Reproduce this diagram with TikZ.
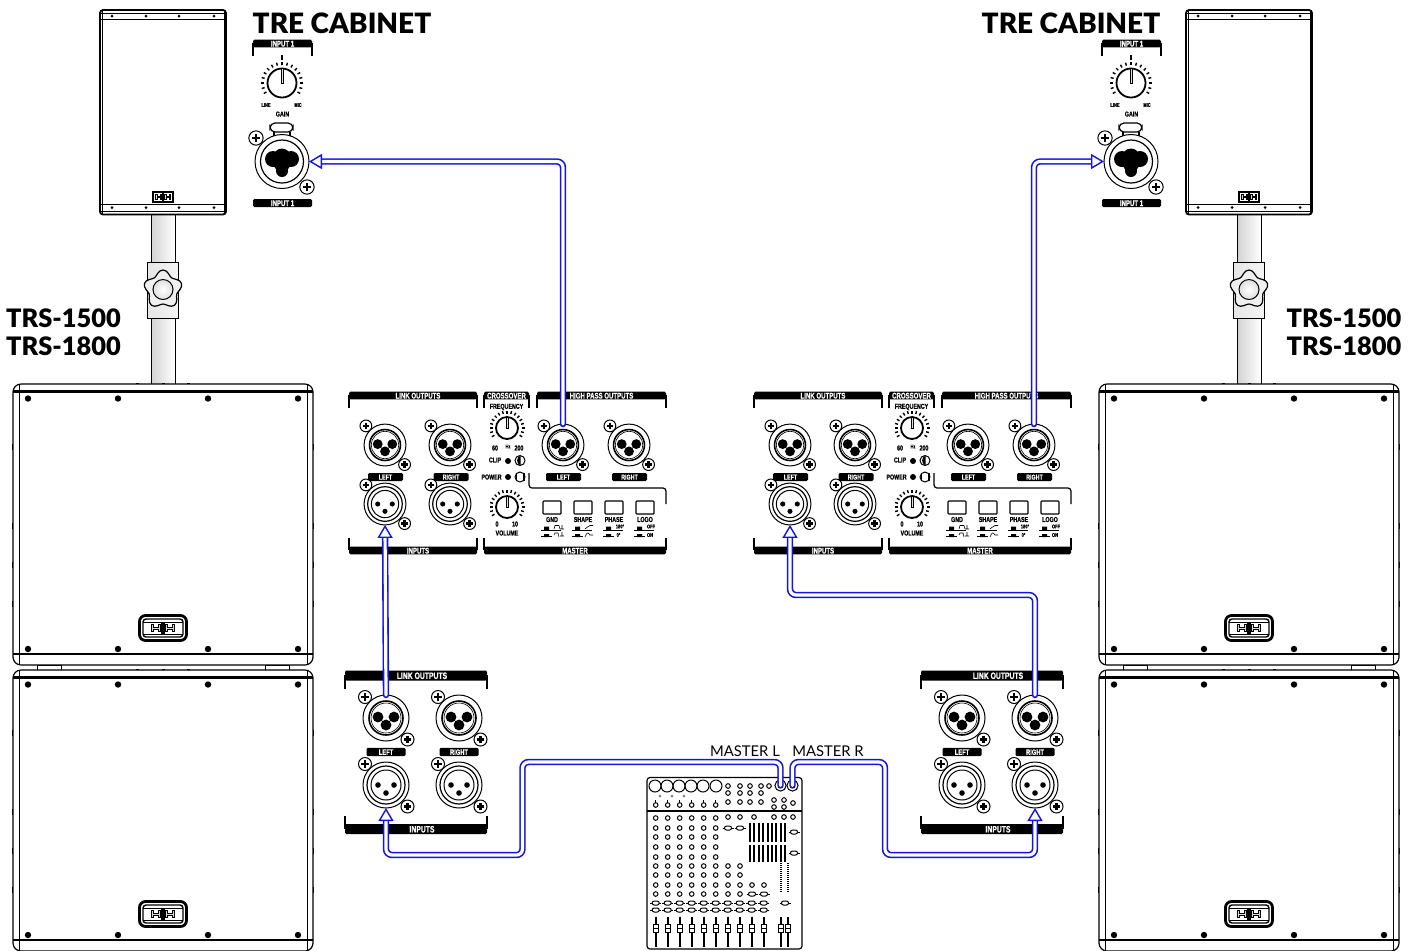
\documentclass[tikz,border=0pt]{standalone}
\usepackage{fontspec}
\usetikzlibrary{arrows.meta}
\newfontfamily\titlefont[BoldFont={Lato Black}]{Lato}
\newfontfamily\panelfont[FakeStretch=0.74,BoldFeatures={FakeBold=0.8}]{Liberation Sans}
\definecolor{cableblue}{RGB}{20,20,225}
\begin{document}
\begin{tikzpicture}[x=0.5pt,y=-0.5pt,line width=0.5pt,
  cable/.style={draw=cableblue,double=white,double distance=1.6pt,line width=0.8pt,rounded corners=3pt,line cap=round,
    -{Triangle[length=6.5pt,width=7.5pt,fill=white,line width=0.7pt]}},
  maintitle/.style={inner sep=0,font=\titlefont\bfseries\fontsize{14}{16}\selectfont},
  trslabel/.style={inner sep=0,font=\titlefont\bfseries\fontsize{12.7}{14}\selectfont},
  mastertag/.style={inner sep=0,font=\titlefont\fontsize{7.4}{9}\selectfont},
  panelbar/.style={fill=black,text=white,inner sep=0,rounded corners=0.7pt,text height=3pt,text depth=0pt,font=\panelfont\bfseries\fontsize{4.1}{4.1}\selectfont},
  paneltext/.style={inner sep=0,font=\panelfont\bfseries\fontsize{3.6}{3.6}\selectfont},
  tinytext/.style={inner sep=0,font=\panelfont\bfseries\fontsize{2.7}{2.7}\selectfont},
  jackring/.style={circle,draw,fill=white,minimum size=23pt,inner sep=0,outer sep=0,transform shape},
  mixjack/.style={circle,draw,fill=white,minimum size=5.6pt,inner sep=0,outer sep=0},
  panelline/.style={line width=0.6pt}]
\useasboundingbox (0,0) rectangle (1419,950);
\def\panelScrew#1#2{%
  \draw[fill=white] (#1,#2) circle[radius=6.5];
  \draw[line width=1.1pt] (#1-3.6,#2) -- (#1+3.6,#2) (#1,#2-3.6) -- (#1,#2+3.6);}
\def\panelKnob#1#2#3{%
  \begin{scope}[shift={(#1,#2)}]
  \foreach \ang in {150,165,...,390} \draw[line width=0.7pt] (\ang:#3+3.5) -- (\ang:#3+6.5);
  \draw[fill=white,line width=0.9pt] (0,0) circle[radius=#3];
  \draw[fill=gray!25,line width=0.3pt] (-1,-#3) rectangle (1,0);
  \end{scope}}
\def\hhLogo#1#2#3{%
  \begin{scope}[shift={(#1,#2)},scale=#3]
  \fill (-2,-6) rectangle (2,6);
  \draw[line width=0.4pt,fill=gray!30] (-12,-4) -- (-10,-4) -- (-10,-1) -- (-5,-1) -- (-5,-4) -- (-3,-4) -- (-3,4) -- (-5,4) -- (-5,1) -- (-10,1) -- (-10,4) -- (-12,4) -- cycle;
  \draw[line width=0.4pt,fill=gray!30] (12,-4) -- (10,-4) -- (10,-1) -- (5,-1) -- (5,-4) -- (3,-4) -- (3,4) -- (5,4) -- (5,1) -- (10,1) -- (10,4) -- (12,4) -- cycle;
  \end{scope}}
\def\jackOut#1#2#3#4{%
  \begin{scope}[shift={(#2,#3)},scale=#4]
  \panelScrew{-21}{-21}
  \panelScrew{21.5}{21.5}
  \node[jackring] (#1) at (0,0) {};
  \draw[line width=0.8pt] (0,0) circle[radius=17];
  \draw[line width=0.3pt] (0,0) circle[radius=15];
  \fill (-8,-1) circle[radius=5.4] (8,-1) circle[radius=5.4] (0,7) circle[radius=5.4];
  \end{scope}}
\def\jackIn#1#2#3#4{%
  \begin{scope}[shift={(#2,#3)},scale=#4]
  \panelScrew{-21}{-21}
  \panelScrew{21.5}{21.5}
  \node[jackring] (#1) at (0,0) {};
  \draw[line width=0.6pt] (0,0) circle[radius=19];
  \draw (0,0) circle[radius=15];
  \fill (-8,0) circle[radius=2.8] (8,0) circle[radius=2.8] (0,8) circle[radius=2.8];
  \end{scope}}
\def\mainPanel#1#2{%
  \begin{scope}[shift={(#2,0)}]
  \node[panelbar,minimum width=64pt,minimum height=3.8pt] (#1linkbar) at (413,395.5) {\hspace*{5pt}LINK OUTPUTS};
  \node[panelbar,minimum width=22.5pt,minimum height=3.8pt] (#1xbar) at (506.5,395.5) {CROSSOVER};
  \node[panelbar,minimum width=64.5pt,minimum height=3.8pt] (#1hpbar) at (601.5,395.5) {HIGH PASS OUTPUTS};
  \node[panelbar,minimum width=64pt,minimum height=3.8pt] (#1inbar) at (413,550.5) {\hspace*{5pt}INPUTS};
  \node[panelbar,minimum width=91pt,minimum height=3.8pt] (#1msbar) at (575,550.5) {MASTER};
  \draw[panelline] (349,395) -- (349,408) (477,395) -- (477,408) (484,395) -- (484,408) (529,395) -- (529,408)
    (537,395) -- (537,408) (666,395) -- (666,408) (349,550) -- (349,538) (477,550) -- (477,538) (484,550) -- (484,538) (666,550) -- (666,538);
  \draw[panelline,rounded corners=1.5pt] (529,473) -- (529,488) -- (666,488) -- (666,504);
  \jackOut{#1linkL}{385}{445}{0.91}
  \jackOut{#1linkR}{450}{445}{0.91}
  \jackIn{#1inL}{385}{504}{0.91}
  \jackIn{#1inR}{450}{504}{0.91}
  \jackOut{#1hpL}{563}{445}{0.91}
  \jackOut{#1hpR}{629}{445}{0.91}
  \foreach \tx/\tname/\tkey in {385.5/LEFT/a,451/RIGHT/b,563.5/LEFT/c,629.5/RIGHT/d}
    \node[panelbar,minimum width=17.5pt,minimum height=4pt,text height=2.6pt,font=\panelfont\bfseries\fontsize{3.6}{3.6}\selectfont] (#1tag\tkey) at (\tx,477) {\tname};
  \node[paneltext] (#1freq) at (506.5,407) {FREQUENCY};
  \panelKnob{507}{428}{11}
  \node[paneltext] (#1sixty) at (495,448) {60};
  \node[tinytext] (#1hz) at (508,446.5) {Hz};
  \node[paneltext] (#1twohund) at (519,448) {200};
  \node[paneltext] (#1clip) at (495,460) {CLIP};
  \node[paneltext] (#1power) at (491.5,477) {POWER};
  \fill (508,461) circle[radius=3] (508,477) circle[radius=3];
  \draw[fill=white] (520,460.5) circle[radius=5] (520,477) circle[radius=5];
  \fill (520.5,455.5) -- (520.5,465.5) .. controls (516,464) and (516,457) .. (520.5,455.5) -- cycle;
  \fill (523,473) rectangle (525,481);
  \fill (517,473) rectangle (515.5,481);
  \panelKnob{507}{507}{11}
  \node[paneltext] (#1zero) at (497,524) {0};
  \node[paneltext] (#1ten) at (515,524) {10};
  \node[paneltext] (#1vol) at (507,533) {VOLUME};
  \foreach \bx/\bname in {552/GND,583/SHAPE,614/PHASE,645/LOGO}{
    \draw[line width=0.55pt,rounded corners=0.4pt] (\bx-9,501) rectangle (\bx+9,514);
    \node[paneltext] (#1\bname) at (\bx,519.5) {\bname};
    \draw (\bx-11,530) -- (\bx+9,530);
    \fill (\bx-8,526.5) rectangle (\bx-3,530) (\bx-8,534) rectangle (\bx-3,537);
    \draw (\bx-11,536) -- (\bx,536);}
  \draw[line width=0.3pt] (554,529) -- (555,525.5) -- (559,525.5) -- (560,529) (562,525) -- (562,529) (560,529) -- (564,529)
    (554,535) -- (555,533) -- (558,533) -- (559,537) (562,532) -- (562,536) (560,536) -- (564,536);
  \draw[line width=0.3pt] (585,529) .. controls (587,529) and (587,525.5) .. (590,525.5) -- (593,525.5)
    (585,537) .. controls (587,532) and (588,532) .. (590,535) -- (593,535);
  \node[tinytext] (#1phaseup) at (620,526.5) {180°};
  \node[tinytext] (#1phasedn) at (618.5,535) {0°};
  \node[tinytext] (#1logoup) at (651,526.5) {OFF};
  \node[tinytext] (#1logodn) at (650,535) {ON};
  \end{scope}}
\def\splitPanel#1#2{%
  \begin{scope}[shift={(#2,0)}]
  \node[panelbar,minimum width=71pt,minimum height=5pt,text height=3.4pt,font=\panelfont\bfseries\fontsize{4.6}{4.6}\selectfont] (#1linkbar) at (416,675.5) {\hspace*{6pt}LINK OUTPUTS};
  \node[panelbar,minimum width=71pt,minimum height=5pt,text height=3.4pt,font=\panelfont\bfseries\fontsize{4.6}{4.6}\selectfont] (#1inbar) at (416,829) {\hspace*{6pt}INPUTS};
  \draw[panelline] (345,675) -- (345,689) (487,675) -- (487,689) (345,829) -- (345,816) (487,829) -- (487,816);
  \jackOut{#1linkL}{386}{718}{1}
  \jackOut{#1linkR}{459}{718}{1}
  \jackIn{#1inL}{386}{785}{1}
  \jackIn{#1inR}{459}{785}{1}
  \node[panelbar,minimum width=19.5pt,minimum height=4.2pt,text height=2.8pt,font=\panelfont\bfseries\fontsize{3.9}{3.9}\selectfont] (#1tagL) at (386,752) {LEFT};
  \node[panelbar,minimum width=19.5pt,minimum height=4.2pt,text height=2.8pt,font=\panelfont\bfseries\fontsize{3.9}{3.9}\selectfont] (#1tagR) at (459,752) {RIGHT};
  \end{scope}}
\def\treInput#1#2{%
  \begin{scope}[shift={(#2,0)}]
  \node[panelbar,minimum width=29.5pt,minimum height=3.8pt] (#1bar) at (282.5,43.5) {INPUT 1};
  \draw[panelline] (253,43) -- (253,56) (312,43) -- (312,56);
  \fill (281,55) rectangle (283,60);
  \panelKnob{282}{83}{14.5}
  \node[tinytext] (#1line) at (266,105) {LINE};
  \node[tinytext] (#1mic) at (298,105) {MIC};
  \node[paneltext] (#1gain) at (282.5,114) {GAIN};
  \draw[line width=0.6pt] (274,132) -- (274,138) (290,132) -- (290,138);
  \draw[fill=white,line width=0.6pt,rounded corners=2.5pt] (270,123) rectangle (293,132);
  \begin{scope}[shift={(256,138)},scale=1.1]\panelScrew{0}{0}\end{scope}
  \begin{scope}[shift={(307,187)},scale=1.1]\panelScrew{0}{0}\end{scope}
  \node[jackring,minimum size=27pt] (#1jack) at (282,161.5) {};
  \draw[line width=0.6pt] (282,161.5) circle[radius=21.5];
  \fill (273,159) circle[radius=8] (291,159) circle[radius=8] (282,157) circle[radius=8.5] (282,171) circle[radius=6] (282,164) circle[radius=8];
  \node[panelbar,minimum width=29.5pt,minimum height=4pt] (#1barlow) at (282.5,203) {INPUT 1};
  \end{scope}}
\def\treCabinet#1{%
  \begin{scope}[shift={(#1,0)}]
  \shade[left color=gray!35,right color=white,draw=black] (151,214) rectangle (175,384);
  \shade[left color=gray!20,right color=gray!8,draw=black] (147,262) rectangle (178,318);
  \begin{scope}[shift={(163,289.5)}]
  \filldraw[fill=gray!12,line width=0.6pt] plot[smooth cycle,samples=40,domain=0:351] (\x:{17+2.5*cos(5*(\x-270))});
  \shade[inner color=white,outer color=gray!25,draw=black] (0,0) circle[radius=10];
  \end{scope}
  \draw[line width=0.9pt,fill=white,rounded corners=1.5pt] (100,10) rectangle (226,214.5);
  \draw (102,10) -- (102,214) (224,10) -- (224,214);
  \draw (100,13) -- (226,13) (100,19) -- (226,19) (100,204) -- (226,204) (100,211) -- (226,211);
  \foreach \bx in {112,146,179,214} \fill (\bx,16) circle[radius=1.5] (\bx,207.5) circle[radius=1.5];
  \draw[line width=0.7pt,fill=white] (153,192) rectangle (173,202);
  \hhLogo{163}{197}{0.6}
  \end{scope}}
\def\subCabinet#1#2{%
  \begin{scope}[shift={(#1,#2)}]
  \foreach \fx in {37,265} \draw[fill=white] (\fx,665) rectangle (\fx+24,670);
  \foreach \sy in {447,526,565,604}{
    \draw[line width=0.9pt] (12.5,\sy-3) -- (12.5,\sy+3) (313.5,\sy-3) -- (313.5,\sy+3);}
  \foreach \tx in {137,163,188} \fill (\tx-1.5,383) rectangle (\tx+1.5,384.5);
  \draw[line width=0.6pt,fill=white,rounded corners=4pt] (13,384) rectangle (313,665);
  \draw[line width=0.4pt] (19,384) -- (19,665) (307,384) -- (307,665) (13,390) -- (313,390);
  \draw[line width=0.9pt] (13,392) -- (313,392) (13,654) -- (313,654);
  \foreach \bx in {28,118,208,298} \fill (\bx,398.5) circle[radius=3.2] (\bx,649) circle[radius=3.2];
  \draw[line width=1.4pt,fill=white,rounded corners=3pt] (139.5,615.5) rectangle (186.5,640.5);
  \draw[line width=0.7pt,rounded corners=1.5pt] (143,619) rectangle (183,637);
  \draw (143,622) -- (183,622) (143,634) -- (183,634);
  \hhLogo{163}{628}{0.95}
  \end{scope}}
\def\mixKnob#1#2{\draw[fill=white] (#1,#2) circle[radius=2.3];}
\def\mixOval#1#2{\draw (#1-5.5,#2) -- (#1+5.5,#2); \draw[fill=white,rounded corners=1pt] (#1-3.5,#2-2) rectangle (#1+3.5,#2+2);}
\def\mixFader#1{%
  \draw[line width=0.9pt] (#1,917) -- (#1,947);
  \draw[fill=white] (#1-2.5,924) rectangle (#1+2.5,932);
  \draw (#1-2.5,928) -- (#1+2.5,928);}
\treCabinet{0}
\treCabinet{1086}
\subCabinet{0}{0}
\subCabinet{0}{286}
\subCabinet{1086}{0}
\subCabinet{1086}{286}
\treInput{treL}{0}
\treInput{treR}{849}
\mainPanel{upL}{0}
\mainPanel{upR}{405}
\splitPanel{loL}{0}
\splitPanel{loR}{576}
\node[maintitle] (treTitleL) at (342,23) {TRE CABINET};
\node[maintitle] (treTitleR) at (1071,23) {TRE CABINET};
\node[trslabel] (trsL1) at (63.5,318) {TRS-1500};
\node[trslabel] (trsL2) at (63.5,346.5) {TRS-1800};
\node[trslabel] (trsR1) at (1344,318) {TRS-1500};
\node[trslabel] (trsR2) at (1344,346.5) {TRS-1800};
\node[mastertag] (tagMasterL) at (745,751) {MASTER L};
\node[mastertag] (tagMasterR) at (828,751) {MASTER R};
\draw[line width=0.6pt,rounded corners=1.5pt] (647,777.5) rectangle (802,949);
\draw[line width=0.6pt] (647,811) -- (802,811);
\foreach \cx in {655,667,679,691,703,716} \draw (\cx,786) circle[radius=6];
\foreach \cx in {660,672,684} \fill[gray] (\cx,796) circle[radius=1.5];
\foreach \ci in {0,...,5}{
  \pgfmathsetmacro{\cx}{655.7+12*\ci}
  \mixKnob{\cx}{805}
  \draw (\cx,800) -- (\cx,803);
  \foreach \ry in {818,828,837,847,857,866,875,885,894} {\mixKnob{\cx}{\ry}}}
\foreach \cx in {728,740}{
  \foreach \ry in {866,875,885,894} {\mixKnob{\cx}{\ry}}}
\foreach \cx/\ry in {728/786,740/786,750/786,761/786,769/786,728/793,740/793,750/793,761/793,728/802,740/802,750/802,761/802,774/800,784/800,774/807,784/807,793/803,728/817,740/817,754/817,774/817,784/817,793/817,752/885,764/885} {\mixKnob{\cx}{\ry}}
\mixOval{728}{828}
\mixOval{740}{828}
\mixOval{752}{894}
\mixOval{764}{894}
\mixOval{794}{832}
\mixOval{794}{853}
\mixOval{785}{903}
\foreach \ci in {0,...,9}{
  \pgfmathsetmacro{\cx}{655.7+12*\ci}
  \mixOval{\cx}{903}
  \mixOval{\cx}{910}
  \mixFader{\cx}}
\foreach \ci in {0,...,8}{
  \pgfmathsetmacro{\cx}{750+4.4*\ci}
  \draw[line width=1pt] (\cx,823) -- (\cx,842);
  \draw[line width=1pt] (\cx,845) -- (\cx,862);}
\foreach \cx in {781,788}{
  \draw[line width=1.1pt,dash pattern=on 0.5pt off 0.5pt] (\cx,863) -- (\cx,893);
  \mixFader{\cx}}
\node[mixjack] (mixL) at (780.5,785.5) {};
\node[mixjack] (mixR) at (792.5,785.5) {};
\draw[cable] (mixL.center) |- (522.5,762) -- (522.5,855) -| (loLinL.south);
\draw[cable] (mixR.center) |- (885,762) -- (885,855) -| (loRinR.south);
\draw[cable] (loLlinkL.north) -- (upLinL.south);
\draw[cable] (loRlinkR.north) |- (790,595) -- (upRinL.south);
\draw[cable] (upLhpL.north) |- (treLjack.east);
\draw[cable] (upRhpR.north) |- (treRjack.west);
\end{tikzpicture}
\end{document}
